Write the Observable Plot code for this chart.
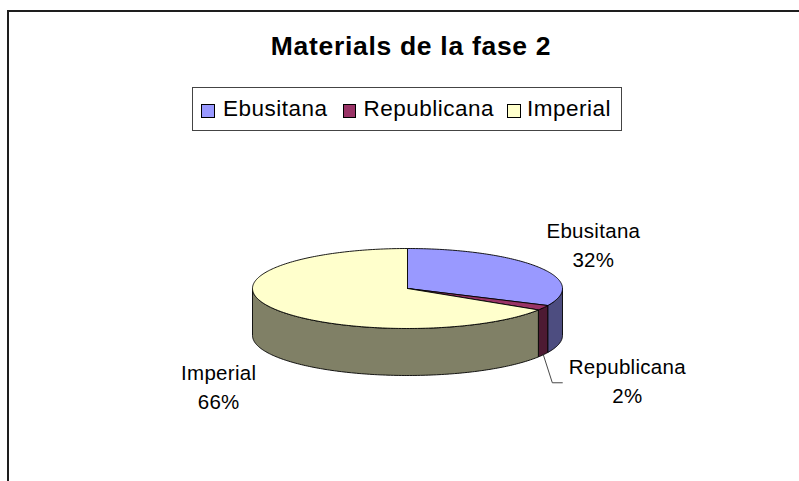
<!DOCTYPE html>
<html>
<head>
<meta charset="utf-8">
<script src="https://cdn.jsdelivr.net/npm/d3@7"></script>
<script src="https://cdn.jsdelivr.net/npm/@observablehq/plot@0.6"></script>
<style>
  html, body { margin: 0; padding: 0; background: #fff; overflow: hidden; }
  #page { position: relative; width: 799px; height: 481px; overflow: hidden; font-family: "Liberation Sans", Arial, sans-serif; }
  #frame { position: absolute; left: 7px; top: 10px; width: 1200px; height: 1200px; border-top: 2px solid #1e1e1e; border-left: 2px solid #1e1e1e; }
  #chart { position: absolute; left: 0; top: 0; }
  #chart svg text { letter-spacing: 0.3px; }
  #title { position: absolute; left: 211px; width: 400px; top: 32.6px; text-align: center; font-weight: bold; font-size: 26.5px; line-height: 1; letter-spacing: 0.7px; color: #000; white-space: nowrap; }
  #legend { position: absolute; left: 192px; top: 87px; width: 430px; height: 44px; box-sizing: border-box; border: 1px solid #444; display: flex; align-items: center; padding-left: 8px; font-size: 22.5px; line-height: 1; letter-spacing: 0.5px; color: #000; white-space: nowrap; }
  #legend .sw { display: inline-block; width: 12px; height: 12px; border: 1px solid #000; position: relative; top: 2px; }
  #legend .lab { display: inline-block; }
</style>
</head>
<body>
<div id="page">
  <div id="frame"></div>
  <div id="chart"></div>
  <div id="title"></div>
  <div id="legend"></div>
</div>
<script>
// ---- data ----
const title = "Materials de la fase 2";
const categories = ["Ebusitana", "Republicana", "Imperial"];
const values = [32, 2, 66];
const topColors = ["#9999FF", "#993366", "#FFFFCC"];
const sideColors = ["#4D4D80", "#4D1A33", "#808066"];

// ---- layout / style ----
const W = 799, H = 481;
const pie = {cx: 407, cy: 288, rx: 155, ry: 40, depth: 47};
// label offset (dx, dy) from the slice's outer edge point at its mid-angle
const labelOffsets = [[55, 0], [84, 48], [-53, 54]];
const leaderOffsets = [null, [[0, 0], [9, 28], [19, 28]], null];
const legendGaps = [15, 13, 10];
const swatchGaps = [8, 7, 6];

// ---- title & legend (HTML) ----
document.getElementById("title").textContent = title;
const leg = document.getElementById("legend");
categories.forEach((c, i) => {
  const sw = document.createElement("span");
  sw.className = "sw";
  sw.style.background = topColors[i];
  sw.style.marginRight = swatchGaps[i] + "px";
  const lab = document.createElement("span");
  lab.className = "lab";
  lab.textContent = c;
  lab.style.marginRight = legendGaps[i] + "px";
  leg.appendChild(sw);
  leg.appendChild(lab);
});

// ---- geometry from data ----
const total = d3.sum(values);
let acc = 0;
const slices = values.map((v, i) => {
  const a0 = acc / total * 2 * Math.PI;
  acc += v;
  const a1 = acc / total * 2 * Math.PI;
  return {i, a0, a1, mid: (a0 + a1) / 2, pct: Math.round(v / total * 100) + "%"};
});
function pt(a, dz = 0) {
  return [pie.cx + pie.rx * Math.sin(a), pie.cy - pie.ry * Math.cos(a) + dz];
}
function arc(a0, a1, dz = 0) {
  const n = Math.max(2, Math.ceil((a1 - a0) / (Math.PI / 180)));
  return d3.range(n + 1).map(k => pt(a0 + (a1 - a0) * k / n, dz));
}

const marks = [];
// side walls (front half only)
slices.forEach(s => {
  const b0 = Math.max(s.a0, Math.PI / 2), b1 = Math.min(s.a1, 3 * Math.PI / 2);
  if (b1 > b0) {
    const poly = arc(b0, b1, 0).concat(arc(b0, b1, pie.depth).reverse());
    poly.push(poly[0]);
    marks.push(Plot.line(poly, {x: d => d[0], y: d => d[1], fill: sideColors[s.i], stroke: "#000", strokeWidth: 0.9, strokeLinejoin: "round"}));
  }
});
// top faces
slices.forEach(s => {
  const poly = [[pie.cx, pie.cy]].concat(arc(s.a0, s.a1, 0));
  poly.push([pie.cx, pie.cy]);
  marks.push(Plot.line(poly, {x: d => d[0], y: d => d[1], fill: topColors[s.i], stroke: "#000", strokeWidth: 0.9, strokeLinejoin: "round"}));
});
// labels
const labelData = slices.map(s => {
  const inFront = Math.cos(s.mid) < 0;
  const [ex, ey] = pt(s.mid, inFront ? pie.depth : 0);
  return {ex, ey, x: ex + labelOffsets[s.i][0], y: ey + labelOffsets[s.i][1], text: categories[s.i] + "\n" + s.pct, i: s.i};
});
labelData.forEach(l => {
  const lo = leaderOffsets[l.i];
  if (lo) {
    marks.push(Plot.line(lo.map(o => [l.ex + o[0], l.ey + o[1]]), {x: d => d[0], y: d => d[1], stroke: "#333", strokeWidth: 0.9}));
  }
});
marks.push(Plot.text(labelData, {x: "x", y: "y", text: "text", textAnchor: "middle", lineAnchor: "bottom", lineHeight: 1.42, fontSize: 20.5, fill: "#000"}));

const chart = Plot.plot({
  width: W, height: H,
  margin: 0,
  x: {domain: [0, W], range: [0, W], axis: null},
  y: {domain: [0, H], range: [0, H], axis: null},
  style: {background: "transparent", fontFamily: "'Liberation Sans', Arial, sans-serif"},
  marks
});
document.getElementById("chart").appendChild(chart);
</script>
</body>
</html>
